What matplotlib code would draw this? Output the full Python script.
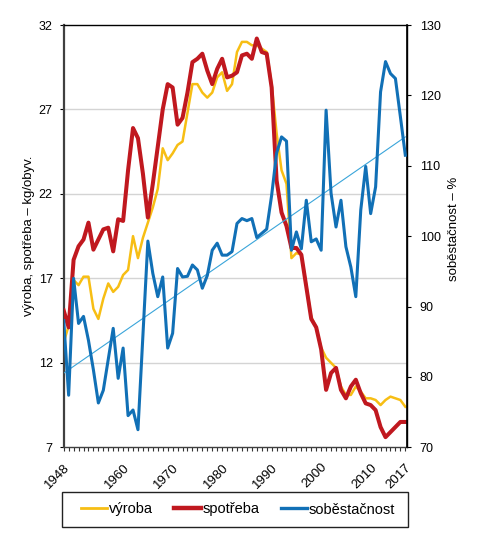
import numpy as np
import matplotlib
matplotlib.use("Agg")
import matplotlib.pyplot as plt
from matplotlib.lines import Line2D
from matplotlib.patches import Rectangle
from matplotlib.ticker import MultipleLocator

plt.rcParams['font.family'] = ['Liberation Sans', 'DejaVu Sans']

years = np.arange(1948, 2018)

vyroba = [13.2, 14.2, 16.9, 16.6, 17.1, 17.1, 15.2, 14.6, 15.8, 16.7,
          16.2, 16.5, 17.2, 17.5, 19.5, 18.2, 19.4, 20.3, 21.2, 22.3,
          24.7, 24.0, 24.4, 24.9, 25.1, 26.8, 28.5, 28.5, 28.0, 27.7,
          28.0, 28.9, 29.2, 28.1, 28.5, 30.4, 31.0, 31.0, 30.8, 30.8,
          30.6, 30.4, 28.5, 25.6, 23.4, 22.6, 18.2, 18.5, 18.4, 16.6,
          14.7, 14.1, 12.9, 12.3, 12.0, 11.7, 10.6, 10.1, 10.1, 10.6,
          10.3, 9.9, 9.9, 9.8, 9.5, 9.8, 10.0, 9.9, 9.8, 9.4]

spotreba = [15.1, 14.1, 18.1, 18.9, 19.3, 20.3, 18.7, 19.3, 19.9, 20.0,
            18.6, 20.5, 20.4, 23.4, 25.9, 25.3, 23.2, 20.6, 22.6, 24.8,
            27.0, 28.5, 28.3, 26.1, 26.5, 28.0, 29.8, 30.0, 30.3, 29.3,
            28.5, 29.4, 30.0, 28.9, 29.0, 29.2, 30.2, 30.3, 30.0, 31.2,
            30.4, 30.3, 28.3, 22.8, 20.9, 20.1, 18.8, 18.8, 18.4, 16.5,
            14.6, 14.1, 12.8, 10.4, 11.4, 11.7, 10.4, 9.9, 10.6, 11.0,
            10.2, 9.6, 9.5, 9.2, 8.2, 7.6, 7.9, 8.2, 8.5, 8.5]

sobestacnost = [88.0, 77.4, 94.0, 87.6, 88.6, 85.2, 81.0, 76.3, 78.1, 82.5,
                86.9, 79.8, 84.1, 74.5, 75.3, 72.5, 85.9, 99.3, 94.7, 91.4,
                94.2, 84.1, 86.2, 95.4, 94.2, 94.3, 95.9, 95.2, 92.6, 94.4,
                98.0, 99.0, 97.3, 97.3, 97.8, 101.8, 102.5, 102.2, 102.5, 99.8,
                100.4, 101.0, 105.8, 111.8, 114.1, 113.5, 98.0, 100.6, 98.2, 105.1,
                99.2, 99.6, 98.0, 117.9, 106.1, 101.3, 105.1, 98.5, 95.6, 91.4,
                103.7, 109.9, 103.2, 107.0, 120.5, 124.8, 123.1, 122.4, 117.0, 111.5]

left_ticks = [7, 12, 17, 22, 27, 32]
right_ticks = [70, 80, 90, 100, 110, 120, 130]
xtick_years = [1948, 1960, 1970, 1980, 1990, 2000, 2010, 2017]

c_vyr = '#F7BE14'
c_spo = '#C0181F'
c_sob = '#1170B6'
c_trend = '#3AA5DA'

fig = plt.figure(figsize=(4.85, 5.34), dpi=100)
W, H = 485, 534
ax = fig.add_axes([63.7 / W, 1 - 447.3 / H, 343.6 / W, 422.3 / H])
ax.set_xlim(1948, 2017.4)
ax.set_ylim(7, 32)
ax.set_yticks(left_ticks)
for v in left_ticks[1:-1]:
    ax.axhline(v, color='#D4D4D4', lw=1.0, zorder=0)

ax.plot(years, vyroba, color=c_vyr, lw=1.8, zorder=2, solid_joinstyle='round')
ax.plot(years, spotreba, color=c_spo, lw=2.9, zorder=3, solid_joinstyle='round')

ax2 = ax.twinx()
ax2.set_ylim(70, 130)
ax2.set_yticks(right_ticks)
coef = np.polyfit(years, sobestacnost, 1)
ax2.plot(years, np.polyval(coef, years), color=c_trend, lw=0.8, zorder=2)
ax2.plot(years, sobestacnost, color=c_sob, lw=2.2, zorder=3, solid_joinstyle='round')

ax.set_xticks(xtick_years)
ax.set_xticklabels([str(y) for y in xtick_years], rotation=45, ha='right',
                   va='top', rotation_mode='anchor', fontsize=9.5)
ax.xaxis.set_minor_locator(MultipleLocator(1))
ax.tick_params(axis='x', which='both', direction='out', length=3, width=0.8,
               color='#333333', pad=7)
ax.tick_params(axis='y', direction='out', length=3, width=0.8, labelsize=9, pad=5)
ax2.tick_params(axis='y', direction='out', length=3, width=0.8, labelsize=9, pad=6)

for s in ['top', 'right']:
    ax.spines[s].set_color('black')
    ax.spines[s].set_linewidth(1.0)
ax.spines['left'].set_color('#404040')
ax.spines['left'].set_linewidth(1.6)
ax.spines['bottom'].set_color('#404040')
ax.spines['bottom'].set_linewidth(1.0)
ax2.spines['right'].set_color('black')
ax2.spines['right'].set_linewidth(1.2)
ax2.spines['left'].set_visible(False)
ax2.spines['top'].set_visible(False)
ax2.spines['bottom'].set_visible(False)

fig.text(29 / W, 1 - 236 / H, 'výroba, spotřeba – kg/obyv.', rotation=90,
         ha='center', va='center', fontsize=9.5)
fig.text(454 / W, 1 - 229 / H, 'soběstačnost – %', rotation=90,
         ha='center', va='center', fontsize=9.5)

# legend
fig.patches.append(Rectangle((62 / W, 1 - 527 / H), 346 / W, 35 / H,
                             transform=fig.transFigure, fill=False,
                             edgecolor='#222222', lw=1.0))
handles = [Line2D([], [], color=c_vyr, lw=2.0),
           Line2D([], [], color=c_spo, lw=3.2),
           Line2D([], [], color=c_sob, lw=2.4)]
fig.legend(handles, ['výroba', 'spotřeba', 'soběstačnost'], loc='center',
           bbox_to_anchor=(238 / W, 1 - 509.5 / H), ncol=3, frameon=False,
           fontsize=10.5, handlelength=1.8, handletextpad=0.1,
           columnspacing=1.5, borderpad=0.2)

fig.savefig('out.png', dpi=100)
